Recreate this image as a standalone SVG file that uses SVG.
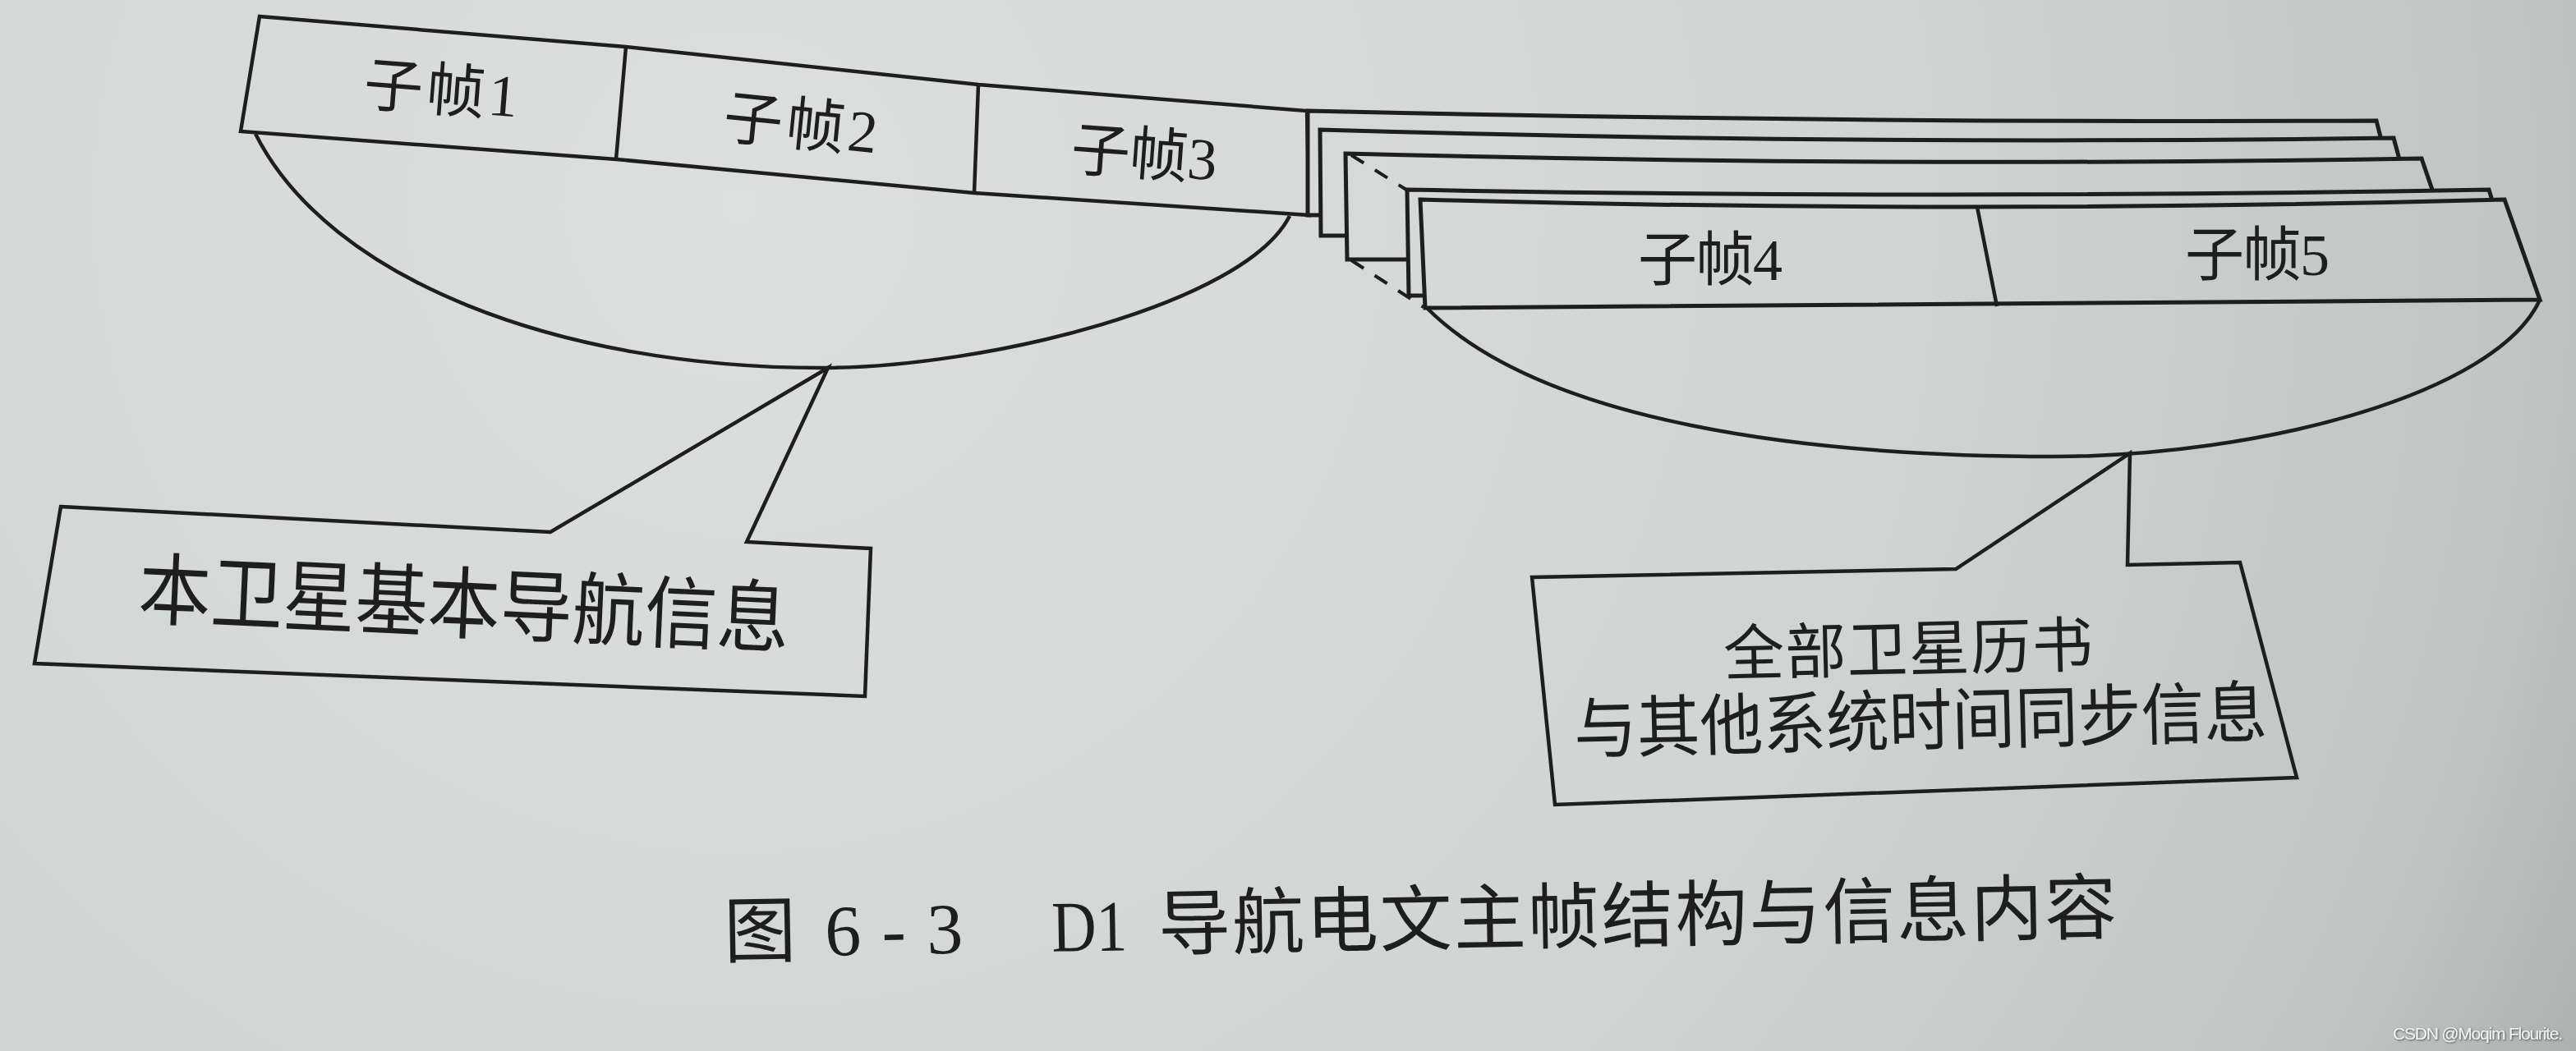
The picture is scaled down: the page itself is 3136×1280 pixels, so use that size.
<svg xmlns="http://www.w3.org/2000/svg" width="3136" height="1280" viewBox="0 0 3136 1280">
<defs>
<radialGradient id="bg" gradientUnits="userSpaceOnUse" cx="900" cy="250" r="2800">
<stop offset="0" stop-color="#dcdfdd"/>
<stop offset="0.5" stop-color="#d0d4d2"/>
<stop offset="0.78" stop-color="#c0c4c2"/>
<stop offset="0.9" stop-color="#a9aeac"/>
<stop offset="1" stop-color="#979c9a"/>
</radialGradient>
<filter id="shadow" x="-10%" y="-50%" width="120%" height="200%"><feDropShadow dx="1" dy="1" stdDeviation="0.8" flood-color="#333" flood-opacity="0.8"/></filter>
</defs>
<style>
.ln{fill:none;stroke:#1e1e1e;stroke-width:4.5;stroke-linejoin:miter}
.fr{fill:url(#bg);stroke:#1e1e1e;stroke-width:5}
.dash{fill:none;stroke:#1e1e1e;stroke-width:4;stroke-dasharray:18 16}
.t{font-family:"Liberation Serif","Noto Sans CJK SC",serif;fill:#1e1e1e;text-anchor:middle}
.s{font-family:"Liberation Serif","Noto Sans CJK SC",serif;fill:#1e1e1e;text-anchor:start}
</style>
<rect width="3136" height="1280" fill="url(#bg)"/>

<g id="frame-left">
<path class="ln" d="M316,20 L762,57 L1191,103 L1591,135 L1594,262 L1186,235 L750,194 L293,160 Z"/>
<path class="ln" d="M762,57 L750,194 M1191,103 L1186,235"/>
<path class="ln" d="M311,163 C400,340 680,448 1000,448 C1200,448 1516,370 1570,263"/>
<text class="t" x="537" y="135" font-size="72" textLength="188" transform="rotate(4.5 537 108)">子帧1</text>
<text class="t" x="975" y="177" font-size="72" textLength="188" transform="rotate(5.7 975 150)">子帧2</text>
<text class="t" x="1393" y="213" font-size="72" textLength="178" transform="rotate(4.2 1393 186)">子帧3</text>
</g>

<g id="frame-stack">
<path class="fr" d="M1592,135 Q2242,150 2893,147 L2922,262 L1592,262 Z"/>
<path class="fr" d="M1607,158 Q2260,177 2914,168 L2946,287 L1608,287 Z"/>
<path class="fr" d="M1638,187 Q2290,204 2948,193 L2990,316 L1640,316 Z"/>
<path class="fr" d="M1713,231 Q2370,243 3030,231 L3069,360 L1715,360 Z"/>
<path class="fr" d="M1729,243 Q2390,261 3049,243 L3092,365 L1735,375 Z"/>
<path class="ln" d="M2407,252 L2431,373"/>
<path class="ln" d="M1737,375 C1877,515 2200,556 2500,556 C2750,556 3040,480 3092,365"/>
<text class="t" x="2082" y="341" font-size="72" textLength="176">子帧4</text>
<text class="t" x="2748" y="335" font-size="72" textLength="176">子帧5</text>
</g>

<g id="connectors">
<path class="dash" d="M1645,189 L1712,231"/>
<path class="dash" d="M1645,317 L1733,374"/>
</g>

<g id="callout-left">
<path class="ln" d="M74,617 L670,648 L1008,448 L909,660 L1060,668 L1053,848 L42,808 Z"/>
<text class="t" x="565" y="770" font-size="96" textLength="793" lengthAdjust="spacingAndGlyphs" transform="rotate(2.6 565 734)">本卫星基本导航信息</text>
</g>

<g id="callout-right">
<path class="ln" d="M1865,703 L2381,693 L2593,552 L2590,688 L2727,685 L2796,947 L1893,980 Z"/>
<text class="t" x="2323" y="817" font-size="74" textLength="450" transform="rotate(-1.4 2323 790)">全部卫星历书</text>
<text class="t" x="2338" y="907" font-size="82" textLength="844" lengthAdjust="spacingAndGlyphs" transform="rotate(-1.4 2338 877)">与其他系统时间同步信息</text>
</g>

<g id="caption" transform="rotate(-1 1730 1118)">
<text class="t" x="925" y="1151" font-size="88">图</text>
<text class="s" x="1004" y="1151" font-size="88" textLength="168">6 - 3</text>
<text class="s" x="1280" y="1151" font-size="88" textLength="92" lengthAdjust="spacingAndGlyphs">D1</text>
<text class="s" x="1410" y="1151" font-size="88" textLength="1167">导航电文主帧结构与信息内容</text>
</g>

<g id="watermark">
<text x="2913" y="1266" font-family="Liberation Sans, sans-serif" font-size="21" fill="#f2f2f2" textLength="207" filter="url(#shadow)">CSDN @Moqim Flourite.</text>
</g>
</svg>
